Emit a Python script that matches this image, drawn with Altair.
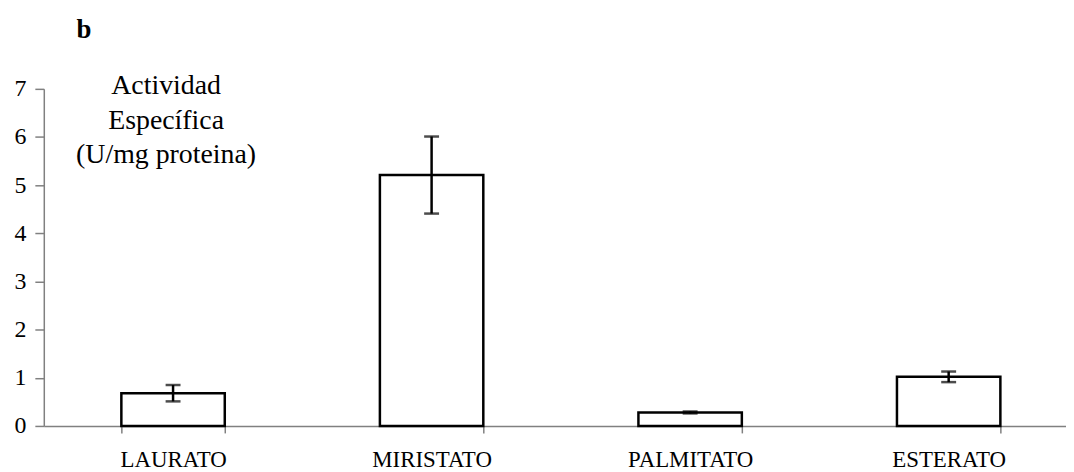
import altair as alt
import pandas as pd

categories = ["LAURATO", "MIRISTATO", "PALMITATO", "ESTERATO"]
values = [0.68, 5.21, 0.28, 1.02]
errors = [0.17, 0.80, 0.02, 0.11]

df = pd.DataFrame({
    "cat": categories,
    "val": values,
    "lo": [v - e for v, e in zip(values, errors)],
    "hi": [v + e for v, e in zip(values, errors)],
})
one = pd.DataFrame({"k": [0]})

FONT = "Liberation Serif, Times New Roman, serif"

xscale = alt.Scale(domain=categories, range=[0, 1040], paddingInner=0.6, paddingOuter=0.3)
yscale = alt.Scale(domain=[0, 7], nice=False)

x = alt.X("cat:N", scale=xscale, sort=categories, title=None,
          axis=alt.Axis(labelAngle=0, labelFont=FONT, labelFontSize=23, labelColor="black",
                        domainColor="#808080", domainWidth=1.5, tickColor="#808080", tickWidth=1.5,
                        tickSize=7, tickBand="extent", labelPadding=16))
y = alt.Y("val:Q", scale=yscale, title=None,
          axis=alt.Axis(values=[0, 1, 2, 3, 4, 5, 6, 7], grid=False, labelFont=FONT, labelFontSize=24,
                        labelColor="black", domainColor="#808080", domainWidth=1.5,
                        tickColor="#808080", tickWidth=1.5, tickSize=9, labelPadding=9))

bars = alt.Chart(df).mark_bar(fill="white", stroke="black", strokeWidth=2.5).encode(x=x, y=y)

rules = alt.Chart(df).mark_rule(color="black", strokeWidth=2.5).encode(
    x=alt.X("cat:N", scale=xscale, sort=categories),
    y=alt.Y("lo:Q", scale=yscale),
    y2="hi:Q",
)
cap_lo = alt.Chart(df).mark_tick(color="black", thickness=2.5, size=15, orient="horizontal").encode(
    x=alt.X("cat:N", scale=xscale, sort=categories),
    y=alt.Y("lo:Q", scale=yscale),
)
cap_hi = alt.Chart(df).mark_tick(color="black", thickness=2.5, size=15, orient="horizontal").encode(
    x=alt.X("cat:N", scale=xscale, sort=categories),
    y=alt.Y("hi:Q", scale=yscale),
)

annot = alt.Chart(one).mark_text(font=FONT, fontSize=28, align="center", baseline="alphabetic",
                                 lineHeight=35, color="black").encode(
    x=alt.value(123), y=alt.value(5),
    text=alt.value(["Actividad", "Específica", "(U/mg proteina)"]),
)
label_b = alt.Chart(one).mark_text(font=FONT, fontSize=27, fontWeight="bold", align="left",
                                   baseline="alphabetic", color="black").encode(
    x=alt.value(33), y=alt.value(-51), text=alt.value("b"),
)

chart = alt.layer(bars, rules, cap_lo, cap_hi, annot, label_b).properties(
    width=1028, height=339,
    background="white",
    autosize=alt.AutoSizeParams(type="none"),
    padding={"left": 36, "top": 80, "right": 0, "bottom": 44},
).configure_view(strokeWidth=0, stroke="transparent")

chart.save("out.html", embed_options={"renderer": "svg", "actions": False})
